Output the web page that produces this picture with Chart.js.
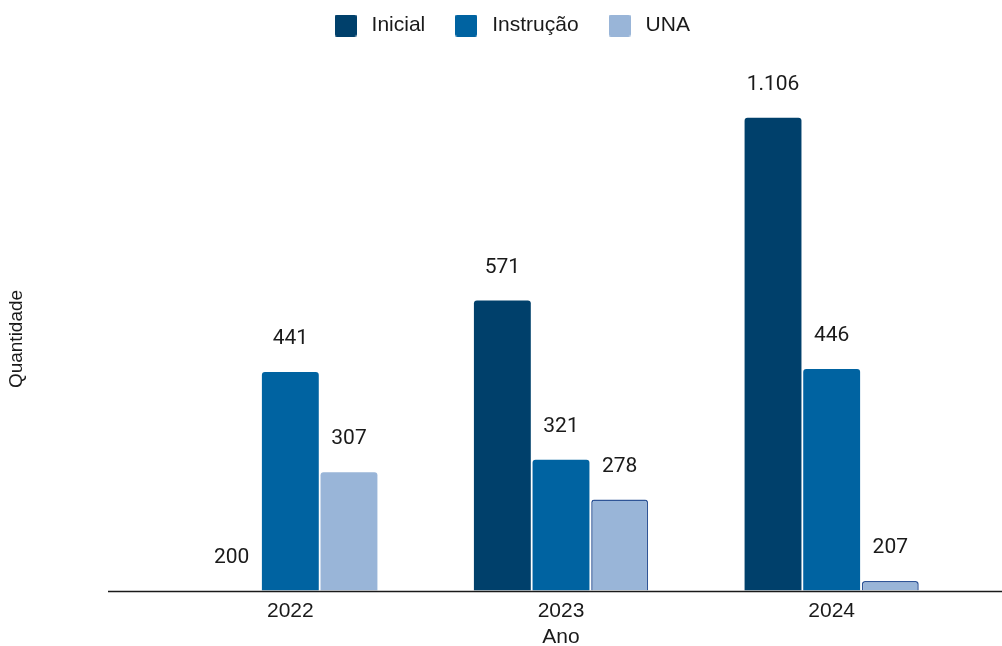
<!DOCTYPE html>
<html>
<head>
<meta charset="utf-8">
<script src="https://cdn.jsdelivr.net/npm/chart.js@4.4.1/dist/chart.umd.min.js"></script>
<style>
    html, body { margin: 0; padding: 0; background: #fff; }
    #wrap { width: 1002px; height: 646px; }
</style>
</head>
<body>
<div id="wrap"><canvas id="myChart"></canvas></div>
<script>
// values
const anos = ['2022', '2023', '2024'];
const inicial = [200, 571, 1106];
const instrucao = [441, 321, 446];
const una = [307, 278, 207];

const yMin = 200;
const yMax = 1434;

const cores = ['#00406b', '#0063a1', '#99b5d8'];

function formatNumber(v) {
    // thousands separator as in pt-BR
    return String(v).replace(/\B(?=(\d{3})+(?!\d))/g, '.');
}

// small rounded square used as legend marker
function legendBox(color) {
    const c = document.createElement('canvas');
    c.width = 22;
    c.height = 22;
    const g = c.getContext('2d');
    g.fillStyle = color;
    g.beginPath();
    g.roundRect(0, 0, 22, 22, 2);
    g.fill();
    return c;
}

// value labels above each bar
const valueLabels = {
    id: 'valueLabels',
    afterDatasetsDraw(chart) {
        const ctx = chart.ctx;
        ctx.save();
        ctx.font = '21px Roboto';
        ctx.fillStyle = '#1a1a1a';
        ctx.textAlign = 'center';
        ctx.textBaseline = 'middle';
        chart.data.datasets.forEach((ds, i) => {
            const meta = chart.getDatasetMeta(i);
            meta.data.forEach((bar, j) => {
                ctx.fillText(formatNumber(ds.data[j]), bar.x, bar.y - 33);
            });
        });
        ctx.restore();
    }
};

// x axis line (wider than the plot area) and the y title
const extras = {
    id: 'extras',
    afterDatasetsDraw(chart) {
        const ctx = chart.ctx;
        const y = Math.round(chart.chartArea.bottom) + 0.5;
        ctx.save();
        ctx.strokeStyle = '#1a1a1a';
        ctx.lineWidth = 1.5;
        ctx.beginPath();
        ctx.moveTo(108, y);
        ctx.lineTo(chart.width, y);
        ctx.stroke();

        ctx.translate(17, 339);
        ctx.rotate(-Math.PI / 2);
        ctx.font = '19px "Liberation Sans"';
        ctx.fillStyle = '#1a1a1a';
        ctx.textAlign = 'center';
        ctx.textBaseline = 'middle';
        ctx.fillText('Quantidade', 0, 0);
        ctx.restore();
    }
};

var ctx = document.getElementById('myChart').getContext('2d');
var myChart = new Chart(ctx, {
    type: 'bar',
    data: {
        labels: anos,
        datasets: [{
            label: 'Inicial',
            data: inicial,
            backgroundColor: cores[0],
            borderWidth: 0,
            borderRadius: 3
        }, {
            label: 'Instrução',
            data: instrucao,
            backgroundColor: cores[1],
            borderWidth: 0,
            borderRadius: 3
        }, {
            label: 'UNA',
            data: una,
            backgroundColor: cores[2],
            borderColor: [cores[2], '#2f5597', '#2f5597'],
            borderWidth: [0, 1.5, 1.5],
            borderRadius: 3
        }]
    },
    options: {
        responsive: true,
        maintainAspectRatio: false,
        animation: false,
        layout: {
            padding: { top: -10.5, right: 35, left: 53, bottom: -4 }
        },
        datasets: {
            bar: {
                categoryPercentage: 0.65,
                barPercentage: 0.97
            }
        },
        scales: {
            x: {
                grid: { display: false, drawTicks: false, tickLength: 0 },
                border: { display: false },
                ticks: {
                    color: '#1a1a1a',
                    font: { family: 'Liberation Sans', size: 21 },
                    padding: 8.5
                },
                title: {
                    display: true,
                    text: 'Ano',
                    color: '#1a1a1a',
                    font: { family: 'Liberation Sans', size: 21 },
                    padding: { top: -8, bottom: 0 }
                }
            },
            y: {
                type: 'logarithmic',
                min: yMin,
                max: yMax,
                grid: { display: false, drawTicks: false },
                border: { display: false },
                ticks: { display: false },
                // keeps the space on the left of the plot (title drawn by plugin)
                afterFit: function(scale) {
                    scale.width = 102;
                }
            }
        },
        plugins: {
            legend: {
                position: 'top',
                labels: {
                    color: '#1a1a1a',
                    font: { family: 'Liberation Sans', size: 21 },
                    usePointStyle: true,
                    pointStyleWidth: 31,
                    boxHeight: 22,
                    padding: 25.5,
                    generateLabels: function(chart) {
                        const items = Chart.defaults.plugins.legend.labels.generateLabels(chart);
                        items.forEach((item, i) => {
                            item.pointStyle = legendBox(cores[i]);
                        });
                        return items;
                    }
                }
            },
            tooltip: { enabled: false }
        }
    },
    plugins: [valueLabels, extras]
});
</script>
</body>
</html>
